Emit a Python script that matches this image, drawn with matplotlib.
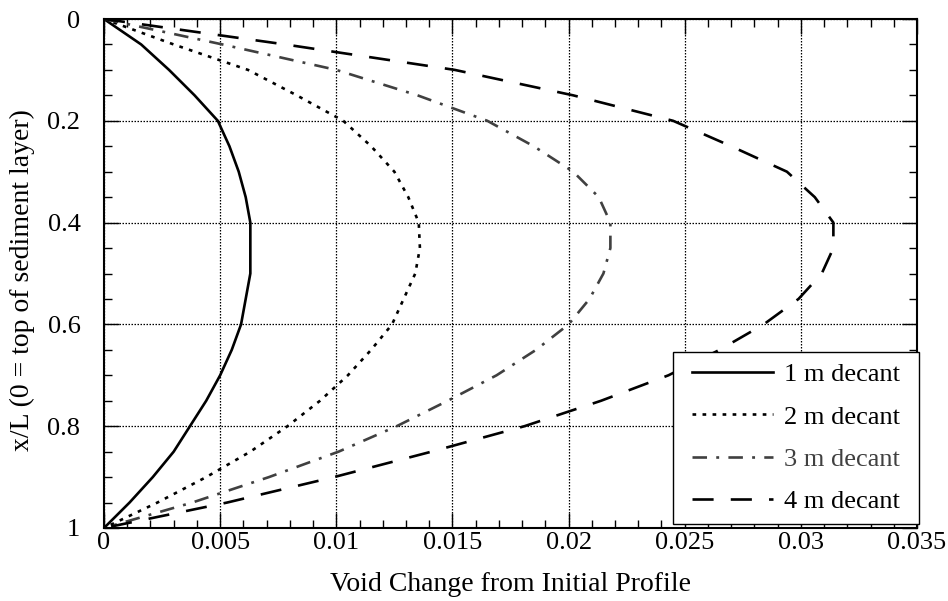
import matplotlib
matplotlib.use("Agg")
import matplotlib.pyplot as plt
from matplotlib.path import Path
from matplotlib.ticker import MultipleLocator, FixedLocator, FuncFormatter

# Depth fraction x/L (0 = top of sediment layer)
depth = [0.0, 0.05, 0.1, 0.15, 0.2, 0.25, 0.3, 0.35, 0.4, 0.45, 0.5,
         0.55, 0.6, 0.65, 0.7, 0.75, 0.8, 0.85, 0.9, 0.95, 1.0]

# Void change from initial profile for each decant depth
void_1m = [0.0, 0.0016, 0.0028, 0.0039, 0.0049, 0.0054, 0.0058, 0.0061,
           0.0063, 0.0063, 0.0063, 0.0061, 0.0059, 0.0055, 0.0050, 0.0044,
           0.0037, 0.0030, 0.0021, 0.0011, 0.0]
void_2m = [0.0, 0.0030, 0.0062, 0.0083, 0.0103, 0.0115, 0.0125, 0.0131,
           0.01355, 0.0136, 0.0134, 0.0129, 0.0124, 0.0115, 0.0105, 0.0093,
           0.0079, 0.0063, 0.0044, 0.0023, 0.0]
void_3m = [0.0, 0.0051, 0.0100, 0.0135, 0.0165, 0.0185, 0.0202, 0.0213,
           0.0218, 0.0218, 0.0215, 0.0209, 0.0200, 0.0186, 0.0169, 0.0148,
           0.0126, 0.0101, 0.0071, 0.0038, 0.0]
void_4m = [0.0, 0.0078, 0.0151, 0.0202, 0.0245, 0.0270, 0.0294, 0.0306,
           0.0314, 0.0314, 0.0309, 0.0299, 0.0284, 0.0265, 0.0243, 0.0214,
           0.0181, 0.0141, 0.0099, 0.0053, 0.0]

labels = ["1 m decant", "2 m decant", "3 m decant", "4 m decant"]
x_ticks = [0, 0.005, 0.01, 0.015, 0.02, 0.025, 0.03, 0.035]
y_ticks = [0, 0.2, 0.4, 0.6, 0.8, 1.0]

plt.rcParams["font.family"] = ["Liberation Serif", "DejaVu Serif"]
plt.rcParams["font.size"] = 19

W, H = 948, 601
fig = plt.figure(figsize=(W / 100, H / 100), dpi=100)
ax = fig.add_axes([104 / W, 1 - 528 / H, (917 - 104) / W, (528 - 19) / H])

gray = "#404040"
ax.plot(void_1m, depth, color="black", lw=1.9, label=labels[0])
ax.plot(void_2m, depth, color="black", lw=1.9, dashes=(1.4, 2.4), label=labels[1])
ax.plot(void_3m, depth, color=gray, lw=1.9, dashes=(5.5, 3.5, 1.1, 3.5), label=labels[2])
ax.plot(void_4m, depth, color="black", lw=1.9, dashes=(8.0, 6.5), label=labels[3])

ax.set_xlim(0, 0.035)
ax.set_ylim(1, 0)
ax.xaxis.set_major_locator(FixedLocator(x_ticks))
ax.xaxis.set_minor_locator(MultipleLocator(0.001))
ax.yaxis.set_major_locator(FixedLocator(y_ticks))
ax.yaxis.set_minor_locator(MultipleLocator(0.05))
ax.xaxis.set_major_formatter(FuncFormatter(lambda v, p: f"{v:g}"))
ax.yaxis.set_major_formatter(FuncFormatter(lambda v, p: f"{v:g}"))

ax.tick_params(which="both", direction="in", top=True, right=True, width=1.0)
ax.tick_params(which="major", length=11)
ax.tick_params(which="minor", length=5.5)
ax.tick_params(axis="x", which="major", pad=3)
ax.tick_params(axis="y", which="major", pad=17)

for s in ax.spines.values():
    s.set_linewidth(1.5)

ax.grid(True, which="major", color="black", lw=0.9, linestyle=(0, (1.2, 1.2)))

ax.set_xlabel("Void Change from Initial Profile", fontsize=20)
ax.set_ylabel("x/L (0 = top of sediment layer)", fontsize=20)
ax.xaxis.set_label_coords(0.5, -(572 - 528) / 509)
ax.yaxis.set_label_coords((35 - 104) / 813, 1 - (280 - 19) / 509)

# legend frame with extra horizontal margin around the entries
FRAME_PAD_X = 8


def wide_square(x0, y0, width, height, *args):
    x1 = x0 - FRAME_PAD_X
    x2 = x0 + width + FRAME_PAD_X
    y1, y2 = y0, y0 + height
    return Path([(x1, y1), (x2, y1), (x2, y2), (x1, y2), (x1, y1)], closed=True)


leg = ax.legend(loc="lower right",
                bbox_to_anchor=((919 - FRAME_PAD_X) / W, 1 - 524 / H),
                bbox_transform=fig.transFigure, borderaxespad=0,
                fancybox=False, framealpha=1, edgecolor="black",
                handlelength=3.1, handletextpad=0.42, borderpad=0.4,
                labelspacing=0.72)
leg.get_frame().set_boxstyle(wide_square)
leg.get_frame().set_linewidth(1.0)
leg.get_texts()[2].set_color(gray)

fig.savefig("out.png", dpi=100)
